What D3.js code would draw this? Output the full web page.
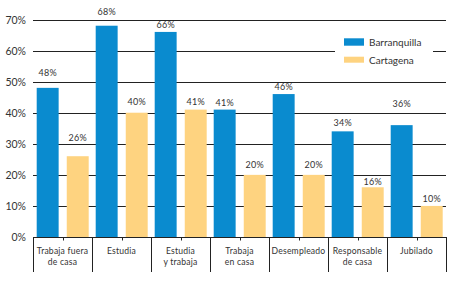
<!DOCTYPE html>
<html><head><meta charset="utf-8">
<script src="https://cdn.jsdelivr.net/npm/d3@7"></script>
<style>
body{margin:0;background:#fff;}
text{font-family:Lato,"Open Sans",sans-serif;fill:#333;}
</style></head><body>
<div id="chart"></div>
<script>
// categorías y valores
var categories=[["Trabaja fuera","de casa"],["Estudia"],["Estudia","y trabaja"],["Trabaja","en casa"],["Desempleado"],["Responsable","de casa"],["Jubilado"]];
var seriesNames=["Barranquilla","Cartagena"];
var barranquilla=[48,68,66,41,46,34,36];
var cartagena=[26,40,41,20,20,16,10];
var yTicks=[0,10,20,30,40,50,60,70];
var colors=["#0a8bcf","#fed380"];
// the original nudges its value labels by hand; gap (px) between bar top and label baseline
var labelLift=[[12,15],[10.7,8],[3.7,4.5],[4,6.6],[4,6.6],[5,2.7],[18,4]];

var W=453,H=282;
var svg=d3.select("#chart").append("svg").attr("width",W).attr("height",H);

var x0=d3.scaleBand().domain(d3.range(categories.length)).range([33,446]).padding(0);
var x1=d3.scaleBand().domain([0,1]).range([3.7,x0.bandwidth()-3.3]).paddingInner(0.27);
var y=d3.scaleLinear().domain([0,70]).range([237,19.5]);

// gridlines
svg.append("g").selectAll("line").data(yTicks).enter().append("line")
    .attr("x1",33).attr("x2",446).attr("y1",function(d){return Math.round(y(d))+0.5;}).attr("y2",function(d){return Math.round(y(d))+0.5;})
    .attr("stroke","#222").attr("stroke-width",1);
svg.append("g").selectAll("text").data(yTicks).enter().append("text")
    .attr("x",26).attr("y",function(d){return y(d)+4;}).attr("text-anchor","end")
    .attr("font-size",10.5).text(function(d){return d+"%";});

// bars
var rows=categories.map(function(c,i){return [{v:barranquilla[i],lift:labelLift[i][0]},{v:cartagena[i],lift:labelLift[i][1]}];});
var grp=svg.append("g").selectAll("g").data(rows).enter().append("g")
    .attr("transform",function(d,i){return "translate("+x0(i)+",0)";});
grp.selectAll("rect").data(function(d){return d;}).enter().append("rect")
    .attr("x",function(d,j){return x1(j);}).attr("width",x1.bandwidth())
    .attr("y",function(d){return y(d.v);}).attr("height",function(d){return y(0)-y(d.v);})
    .attr("fill",function(d,j){return colors[j];});
grp.selectAll("text.val").data(function(d){return d;}).enter().append("text").attr("class","val")
    .attr("x",function(d,j){return x1(j)+x1.bandwidth()/2;}).attr("y",function(d){return y(d.v)-d.lift;})
    .attr("text-anchor","middle").attr("font-size",9).attr("fill","#444").attr("letter-spacing",0.3)
    .text(function(d){return d.v+"%";});

// category ticks
var bounds=d3.range(categories.length+1).map(function(i){return 33+i*x0.bandwidth();});
svg.append("g").selectAll("line").data(bounds).enter().append("line")
    .attr("x1",function(d){return Math.round(d)+0.5;}).attr("x2",function(d){return Math.round(d)+0.5;})
    .attr("y1",237).attr("y2",272).attr("stroke","#222").attr("stroke-width",1);
svg.append("g").selectAll("line").data(d3.range(categories.length)).enter().append("line")
    .attr("x1",function(i){return Math.round(x0(i)+x0.bandwidth()/2)+0.5;}).attr("x2",function(i){return Math.round(x0(i)+x0.bandwidth()/2)+0.5;})
    .attr("y1",237).attr("y2",240.5).attr("stroke","#222").attr("stroke-width",1);
var cl=svg.append("g").selectAll("text").data(categories).enter().append("text")
    .attr("text-anchor","middle").attr("font-size",8.6).attr("letter-spacing",0.2);
cl.selectAll("tspan").data(function(d,i){return d.map(function(t){return {t:t,i:i};});}).enter().append("tspan")
    .attr("x",function(d){return x0(d.i)+x0.bandwidth()/2;})
    .attr("y",function(d,k){return 254+k*11;})
    .text(function(d){return d.t;});

// legend
var lg=svg.append("g").attr("transform","translate(335,32)");
lg.append("rect").attr("x",0).attr("y",0).attr("width",98).attr("height",38).attr("fill","#fff");
seriesNames.forEach(function(s,j){
    lg.append("rect").attr("x",9).attr("y",6.3+j*18.4).attr("width",20).attr("height",j?6:7.4).attr("fill",colors[j]);
    lg.append("text").attr("x",34).attr("y",14+j*18).attr("font-size",10).attr("fill","#444").text(s);
});
</script>
</body></html>
